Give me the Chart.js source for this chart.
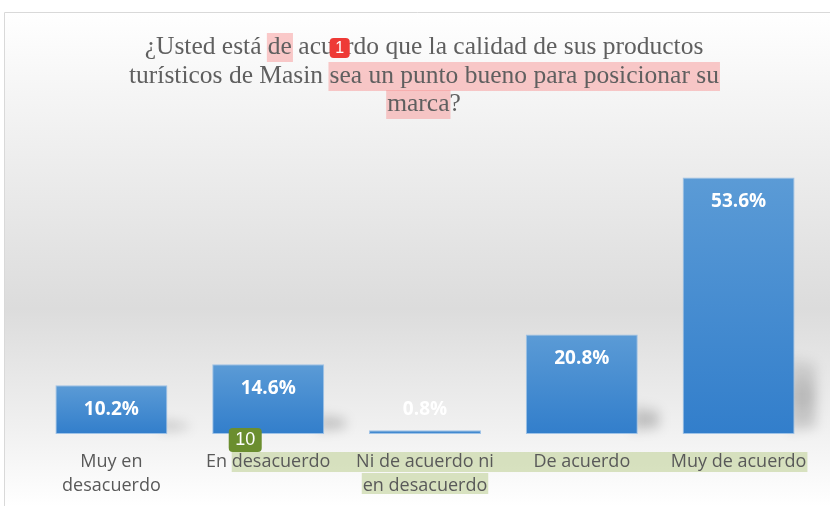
<!DOCTYPE html>
<html><head><meta charset="utf-8">
<script src="https://cdn.jsdelivr.net/npm/chart.js@4/dist/chart.umd.min.js"></script>
<style>html,body{margin:0;padding:0;background:#fff;overflow:hidden}canvas{display:block}</style>
</head><body>
<canvas id="c" width="830" height="506"></canvas>
<script>
const titleLines = ["¿Usted está de acuerdo que la calidad de sus productos",
                    "turísticos de Masin sea un punto bueno para posicionar su",
                    "marca?"];
const categories = [["Muy en","desacuerdo"], "En desacuerdo", ["Ni de acuerdo ni","en desacuerdo"], "De acuerdo", "Muy de acuerdo"];
const values = [10.2, 14.6, 0.8, 20.8, 53.6];
const valueLabels = ["10.2%", "14.6%", "0.8%", "20.8%", "53.6%"];
const yRange = [0, 60];

const TITLE_FONT = '25.5px "Liberation Serif"';
const TICK_FAMILY = '"Open Sans"';
const TICK_SIZE = 18;
const TITLE_CX = 424;
const TITLE_Y = [47, 76, 104];

function roundRect(ctx, x, y, w, h, r) {
  ctx.beginPath();
  ctx.moveTo(x + r, y);
  ctx.arcTo(x + w, y, x + w, y + h, r);
  ctx.arcTo(x + w, y + h, x, y + h, r);
  ctx.arcTo(x, y + h, x, y, r);
  ctx.arcTo(x, y, x + w, y, r);
  ctx.closePath();
}

const decorPlugin = {
  id: 'decor',
  beforeDraw(chart) {
    const ctx = chart.ctx;
    const W = chart.width, H = chart.height;
    ctx.save();
    const g = ctx.createLinearGradient(0, 12, 0, H);
    g.addColorStop(0, '#ffffff');
    g.addColorStop(0.2, '#f3f3f3');
    g.addColorStop(0.6, '#dcdcdc');
    g.addColorStop(0.85, '#f1f1f1');
    g.addColorStop(1, '#ffffff');
    ctx.fillStyle = g;
    ctx.fillRect(5, 13, W - 5, H - 13);
    ctx.strokeStyle = '#d9d9d9';
    ctx.lineWidth = 1;
    ctx.beginPath();
    ctx.moveTo(4.5, H); ctx.lineTo(4.5, 12.5); ctx.lineTo(W, 12.5);
    ctx.stroke();

    ctx.font = TITLE_FONT;
    const hl = 'rgba(248,150,150,0.5)';
    const lineStart = i => TITLE_CX - ctx.measureText(titleLines[i]).width / 2;
    const mark = (i, prefix, word) => {
      const x = lineStart(i) + ctx.measureText(prefix).width;
      const w = ctx.measureText(word).width;
      ctx.fillStyle = hl;
      ctx.fillRect(x - 1, TITLE_Y[i] - 14, w + 2, 29);
    };
    mark(0, "¿Usted está ", "de");
    mark(1, "turísticos de Masin ", "sea un punto bueno para posicionar su");
    mark(2, "", "marca");

    ctx.fillStyle = '#5f5f5f';
    ctx.textAlign = 'center';
    ctx.textBaseline = 'middle';
    titleLines.forEach((t, i) => ctx.fillText(t, TITLE_CX, TITLE_Y[i]));

    const xs = chart.scales.x;
    ctx.font = TICK_SIZE + 'px ' + TICK_FAMILY;
    const c1 = xs.getPixelForValue(1);
    const w1 = ctx.measureText("En desacuerdo").width;
    const start = c1 - w1 / 2 + ctx.measureText("En ").width;
    const c4 = xs.getPixelForValue(4);
    const end = c4 + ctx.measureText("Muy de acuerdo").width / 2;
    ctx.fillStyle = 'rgba(196,212,160,0.65)';
    ctx.fillRect(start, 452, end - start + 1, 20);
    const c2 = xs.getPixelForValue(2);
    const w2 = ctx.measureText("en desacuerdo").width;
    ctx.fillRect(c2 - w2 / 2 - 1, 473, w2 + 2, 21);
    chart.$greenStart = start;
    ctx.restore();
  },
  beforeDatasetsDraw(chart) {
    const ctx = chart.ctx;
    const meta = chart.getDatasetMeta(0);
    ctx.save();
    ctx.filter = 'blur(6px)';
    meta.data.forEach(bar => {
      const h = bar.base - bar.y;
      if (h < 8) return;
      const right = bar.x + bar.width / 2;
      const sh = Math.max(14, h * 0.3);
      const sg = ctx.createLinearGradient(0, bar.base - sh, 0, bar.base);
      sg.addColorStop(0, 'rgba(0,0,0,0.06)');
      sg.addColorStop(0.5, 'rgba(0,0,0,0.22)');
      sg.addColorStop(1, 'rgba(0,0,0,0.12)');
      ctx.fillStyle = sg;
      ctx.beginPath();
      ctx.moveTo(right - 6, bar.base - 3);
      ctx.lineTo(right - 6, bar.base - sh);
      ctx.lineTo(right + 21, bar.base - sh + 6);
      ctx.lineTo(right + 21, bar.base - 6);
      ctx.closePath();
      ctx.fill();
    });
    ctx.restore();
  },
  afterDatasetsDraw(chart) {
    const ctx = chart.ctx;
    const meta = chart.getDatasetMeta(0);
    ctx.save();
    ctx.font = 'bold 19px ' + TICK_FAMILY;
    ctx.fillStyle = '#ffffff';
    ctx.textAlign = 'center';
    ctx.textBaseline = 'middle';
    meta.data.forEach((bar, i) => {
      const y = Math.min(bar.y + 24, bar.base - 24);
      ctx.fillText(valueLabels[i], bar.x, y);
    });
    ctx.restore();
  },
  afterDraw(chart) {
    const ctx = chart.ctx;
    ctx.save();
    ctx.font = TITLE_FONT;
    const ls = TITLE_CX - ctx.measureText(titleLines[0]).width / 2;
    const bx = ls + ctx.measureText("¿Usted está de acu").width - 4;
    ctx.fillStyle = '#ee3a36';
    roundRect(ctx, bx, 38, 20, 20, 4);
    ctx.fill();
    ctx.fillStyle = '#ffffff';
    ctx.font = '16px "Liberation Sans"';
    ctx.textAlign = 'center';
    ctx.textBaseline = 'middle';
    ctx.fillText('1', bx + 10, 48.5);

    const gx = chart.$greenStart - 3;
    ctx.fillStyle = '#6b8e2f';
    roundRect(ctx, gx, 428, 33, 24, 4);
    ctx.fill();
    ctx.fillStyle = '#ffffff';
    ctx.font = '18px "Liberation Sans"';
    ctx.fillText('10', gx + 16.5, 440.5);
    ctx.restore();
  }
};

new Chart(document.getElementById('c'), {
  type: 'bar',
  data: {
    labels: categories,
    datasets: [{
      data: values,
      backgroundColor: (c) => {
        const chart = c.chart;
        if (!chart.scales || !chart.scales.y || c.parsed === undefined) return '#4a8ed2';
        const y = chart.scales.y;
        const top = y.getPixelForValue(c.parsed.y);
        const base = y.getPixelForValue(0);
        if (!isFinite(top) || base - top < 1) return '#3f87d0';
        const g = chart.ctx.createLinearGradient(0, top, 0, base);
        g.addColorStop(0, '#5b9bd6');
        g.addColorStop(1, '#327ecb');
        return g;
      },
      borderColor: 'rgba(150,190,230,0.9)',
      borderWidth: 1,
      borderSkipped: false,
      categoryPercentage: 1,
      barPercentage: 0.714
    }]
  },
  options: {
    responsive: false,
    devicePixelRatio: 1,
    animation: false,
    layout: { padding: { left: 33, right: 13, top: 147, bottom: 0 } },
    plugins: { legend: { display: false }, title: { display: false }, tooltip: { enabled: false } },
    scales: {
      x: {
        grid: { display: false, drawTicks: false },
        border: { display: false },
        ticks: {
          color: '#595959',
          font: { family: TICK_FAMILY, size: TICK_SIZE, lineHeight: 1.33 },
          padding: 16,
          maxRotation: 0,
          autoSkip: false
        },
        afterFit: (s) => { s.height = 72; }
      },
      y: {
        display: false,
        min: yRange[0],
        max: yRange[1]
      }
    }
  },
  plugins: [decorPlugin]
});
</script>
</body></html>
